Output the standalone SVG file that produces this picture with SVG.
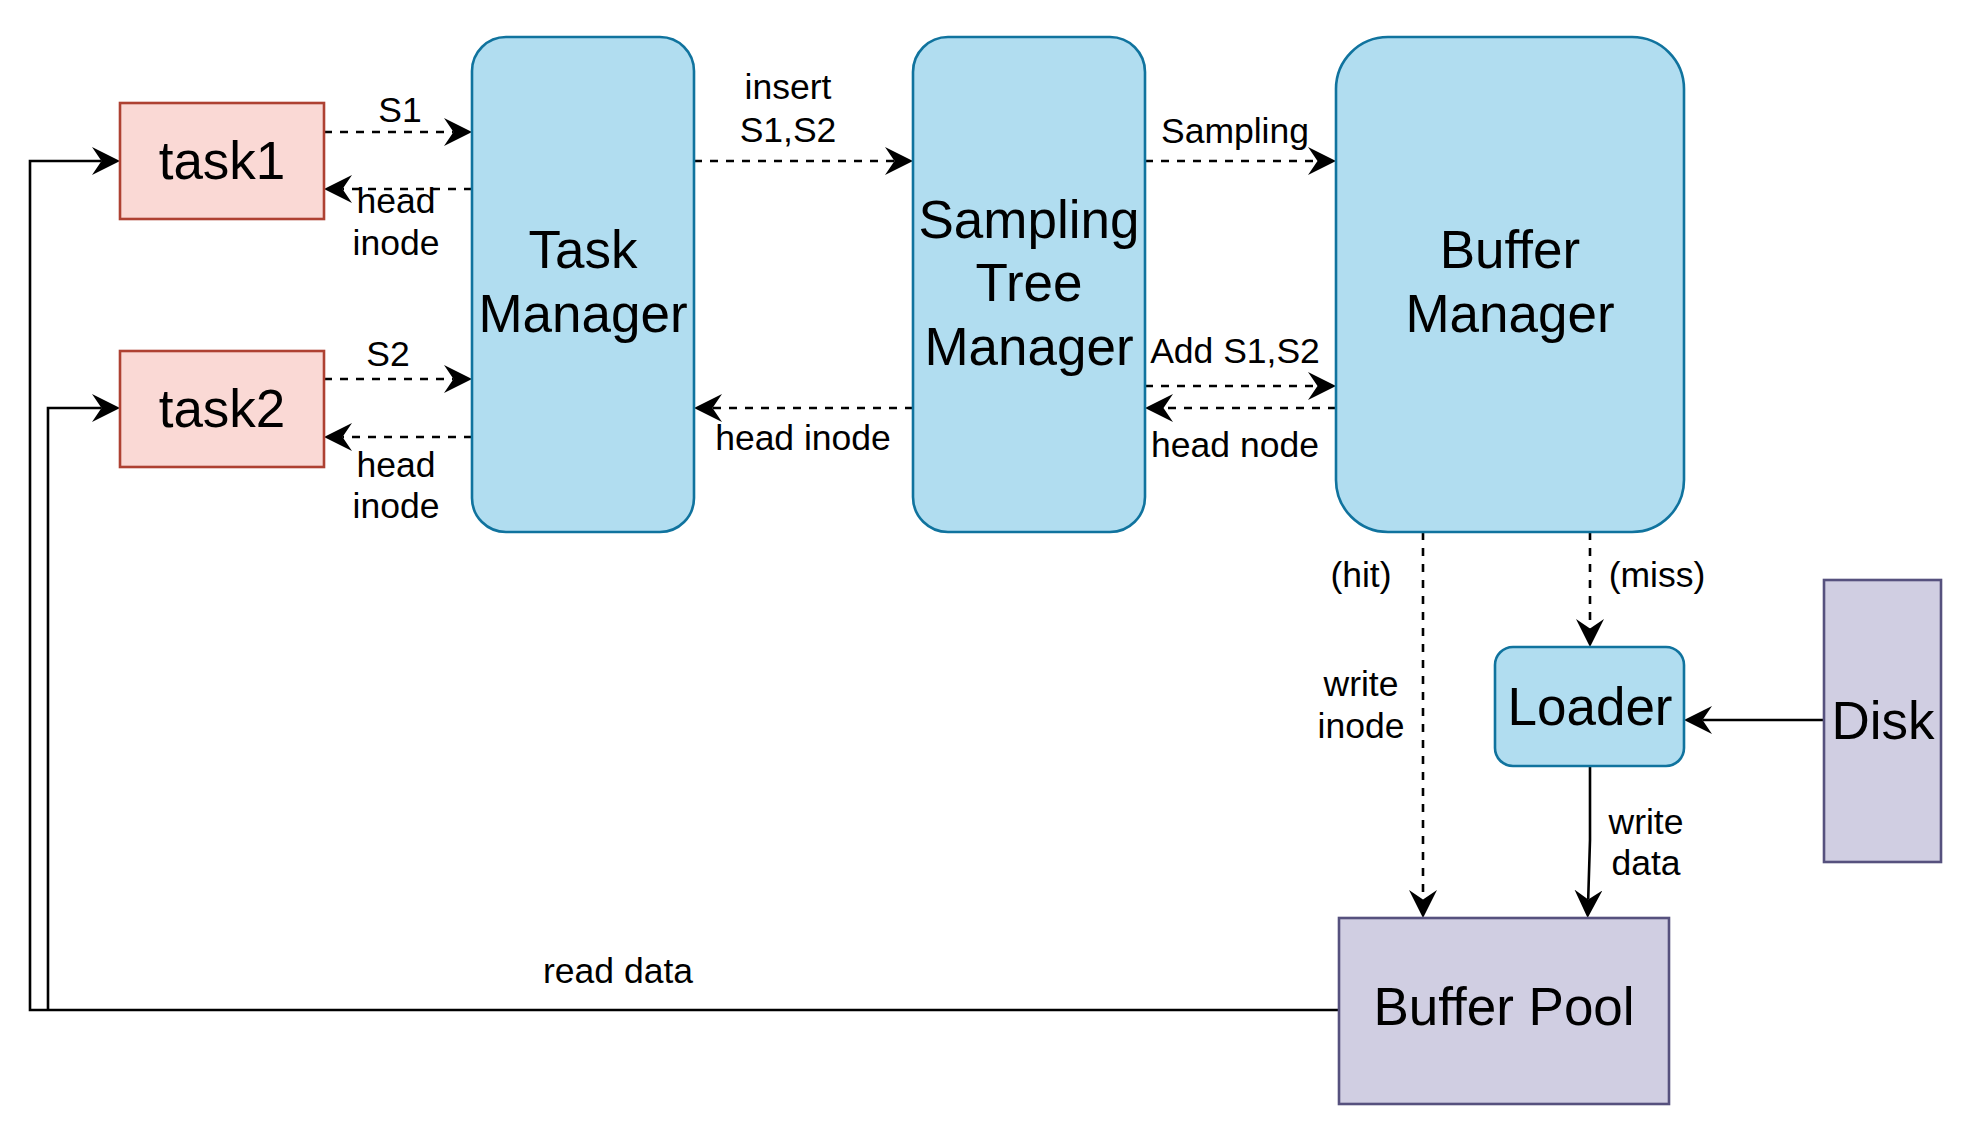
<svg xmlns="http://www.w3.org/2000/svg" width="1980" height="1146" viewBox="0 0 1980 1146">
<defs>
<marker id="arr" viewBox="0 0 28 28" refX="9.5" refY="14" markerWidth="28" markerHeight="28" markerUnits="userSpaceOnUse" orient="auto">
<path d="M0,0 L28,14 L0,28 L9.5,14 Z" fill="#000"/>
</marker>
</defs>
<style>
.blue{fill:#b1ddf0;stroke:#10739e;stroke-width:2.6}
.red{fill:#fad9d5;stroke:#ae4132;stroke-width:2.6}
.purple{fill:#d0cee2;stroke:#56517e;stroke-width:2.6}
.nt{font-family:"Liberation Sans",Arial,sans-serif;font-size:53px;fill:#000;text-anchor:middle}
.lt{font-family:"Liberation Sans",Arial,sans-serif;font-size:35.5px;fill:#000;text-anchor:middle}
.e{fill:none;stroke:#000;stroke-width:2.6;marker-end:url(#arr)}
.d{stroke-dasharray:8 8}
</style>
<rect width="1980" height="1146" fill="#fff"/>
<g id="connectors">
<path class="e d" d="M324,132 L453.5,132"/>
<path class="e d" d="M472,189 L342.5,189"/>
<path class="e d" d="M324,379 L453.5,379"/>
<path class="e d" d="M472,437 L342.5,437"/>
<path class="e d" d="M694,161 L894.5,161"/>
<path class="e d" d="M913,408 L712.5,408"/>
<path class="e d" d="M1145,161 L1317.5,161"/>
<path class="e d" d="M1145,386 L1317.5,386"/>
<path class="e d" d="M1336,408 L1163.5,408"/>
<path class="e d" d="M1423,532 L1423,899.5"/>
<path class="e d" d="M1590,532 L1590,628.5"/>
<path class="e" d="M1824,720 L1702.5,720"/>
<path class="e" d="M1590,766 L1590,840 L1588.2,899.5"/>
<path class="e" d="M1339,1010 L30,1010 L30,161 L101.5,161"/>
<path class="e" d="M48,1010 L48,408 L101.5,408"/>
<text class="lt" x="400" y="122">S1</text>
<text class="lt" x="396" y="213">head</text>
<text class="lt" x="396" y="255">inode</text>
<text class="lt" x="388" y="366">S2</text>
<text class="lt" x="396" y="477">head</text>
<text class="lt" x="396" y="518">inode</text>
<text class="lt" x="788" y="99">insert</text>
<text class="lt" x="788" y="142">S1,S2</text>
<text class="lt" x="803" y="450">head inode</text>
<text class="lt" x="1235" y="143">Sampling</text>
<text class="lt" x="1235" y="363">Add S1,S2</text>
<text class="lt" x="1235" y="457">head node</text>
<text class="lt" x="1361" y="587">(hit)</text>
<text class="lt" x="1361" y="696">write</text>
<text class="lt" x="1361" y="738">inode</text>
<text class="lt" x="1657" y="587">(miss)</text>
<text class="lt" x="1646" y="834">write</text>
<text class="lt" x="1646" y="875">data</text>
<text class="lt" x="618" y="983">read data</text>
</g>
<g id="task1">
<rect class="red" x="120" y="103" width="204" height="116"/>
<text class="nt" x="222" y="179">task1</text>
</g>
<g id="task2">
<rect class="red" x="120" y="351" width="204" height="116"/>
<text class="nt" x="222" y="427">task2</text>
</g>
<g id="task-manager">
<rect class="blue" x="472" y="37" width="222" height="495" rx="34" ry="34"/>
<text class="nt" x="583" y="268">Task</text>
<text class="nt" x="583" y="332">Manager</text>
</g>
<g id="sampling-tree-manager">
<rect class="blue" x="913" y="37" width="232" height="495" rx="35" ry="35"/>
<text class="nt" x="1029" y="238">Sampling</text>
<text class="nt" x="1029" y="301">Tree</text>
<text class="nt" x="1029" y="365">Manager</text>
</g>
<g id="buffer-manager">
<rect class="blue" x="1336" y="37" width="348" height="495" rx="52" ry="52"/>
<text class="nt" x="1510" y="268">Buffer</text>
<text class="nt" x="1510" y="332">Manager</text>
</g>
<g id="loader">
<rect class="blue" x="1495" y="647" width="189" height="119" rx="18" ry="18"/>
<text class="nt" x="1590" y="725">Loader</text>
</g>
<g id="disk">
<rect class="purple" x="1824" y="580" width="117" height="282"/>
<text class="nt" x="1883" y="739">Disk</text>
</g>
<g id="buffer-pool">
<rect class="purple" x="1339" y="918" width="330" height="186"/>
<text class="nt" x="1504" y="1025">Buffer Pool</text>
</g>
</svg>
